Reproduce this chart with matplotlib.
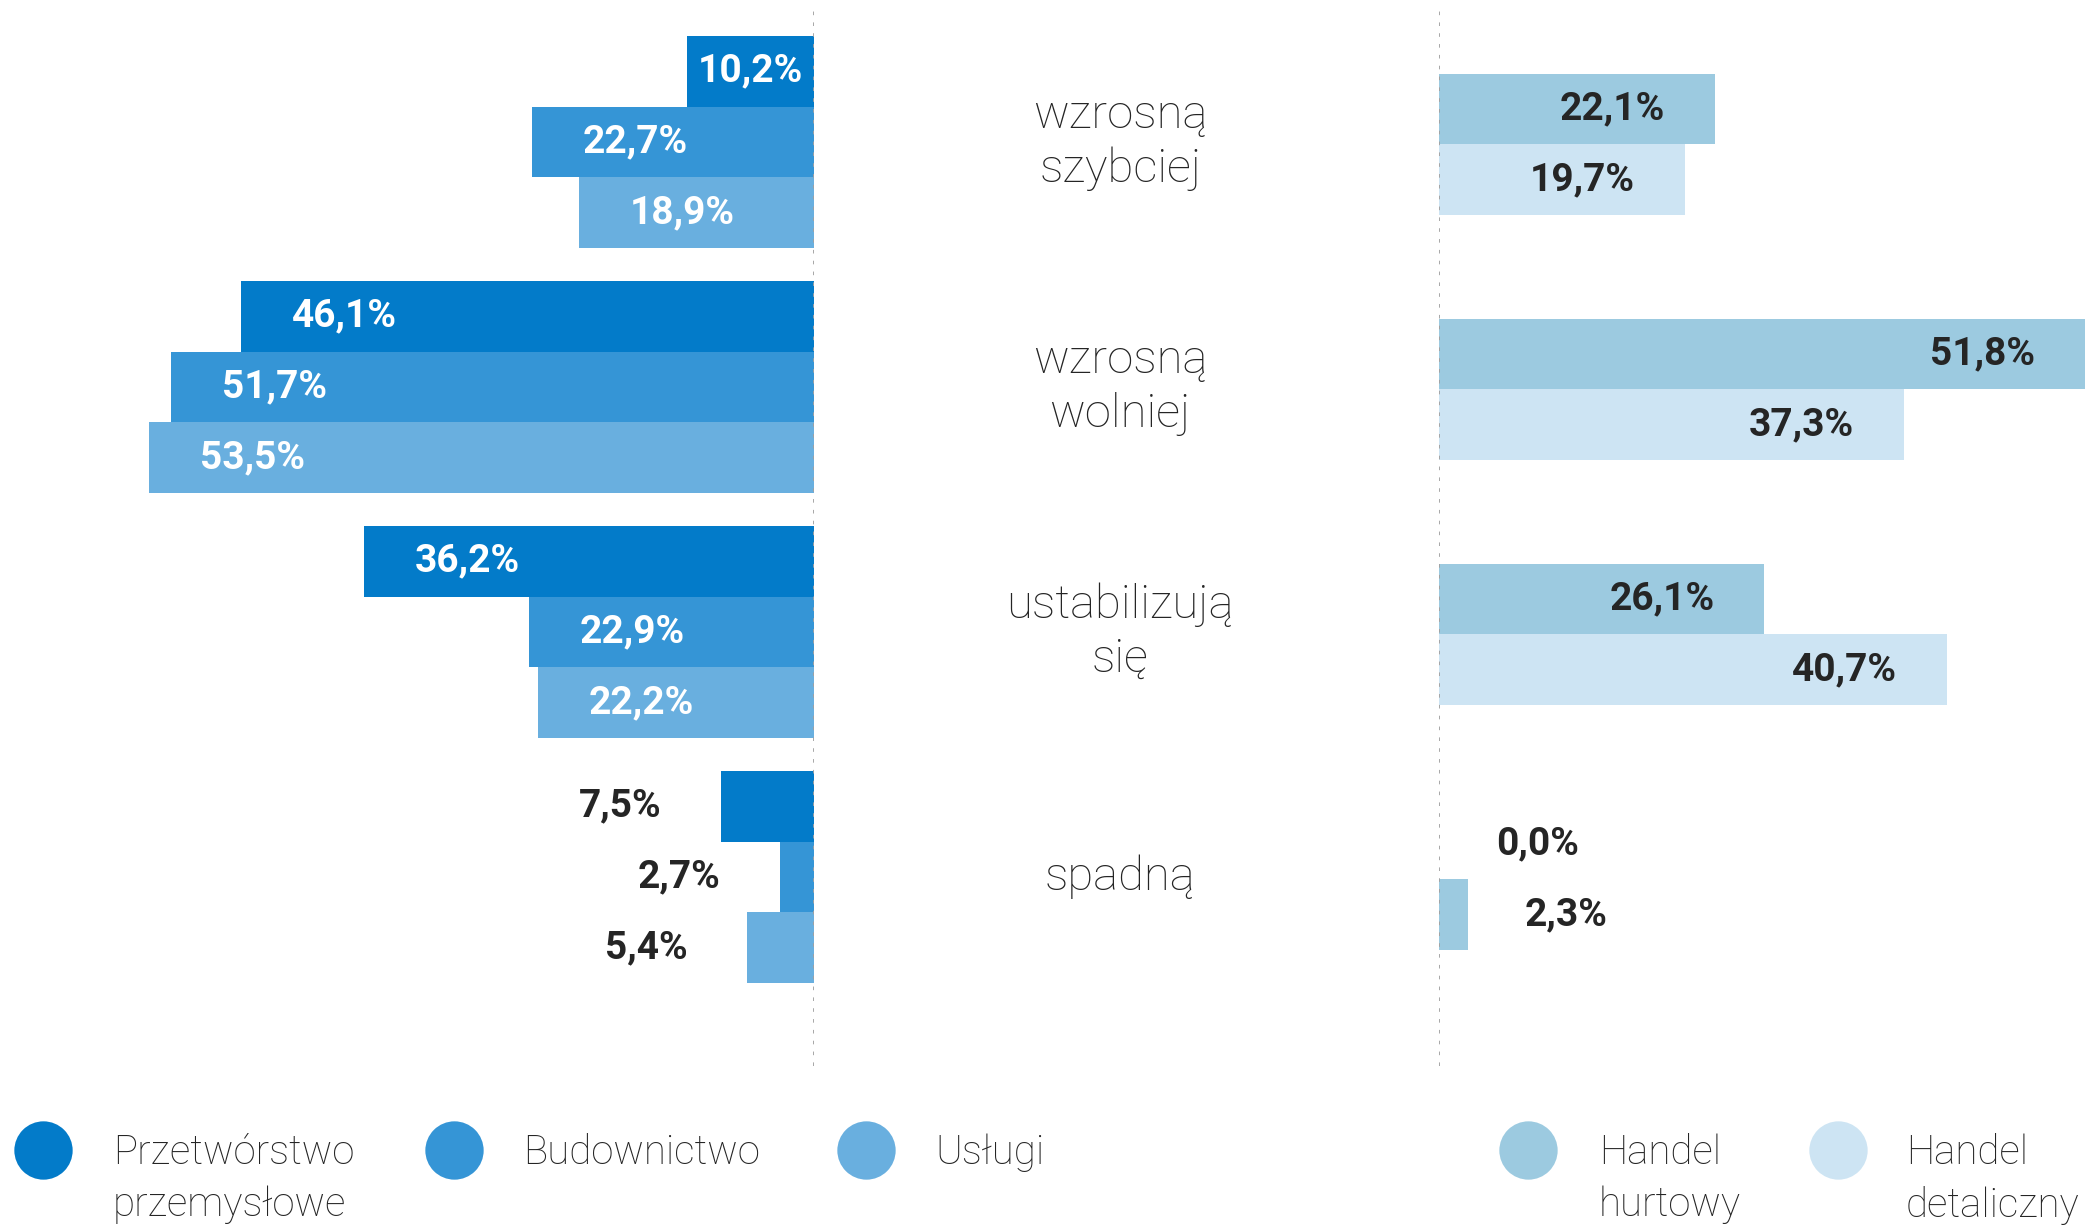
import numpy as np
import matplotlib.pyplot as plt

# dane
kategorie = ["wzrosną\nszybciej", "wzrosną\nwolniej", "ustabilizują\nsię", "spadną"]
przetworstwo = [10.2, 46.1, 36.2, 7.5]
budownictwo = [22.7, 51.7, 22.9, 2.7]
uslugi = [18.9, 53.5, 22.2, 5.4]
hurt = [22.1, 51.8, 26.1, 0.0]
detal = [19.7, 37.3, 40.7, 2.3]

nazwy_lewe = ["Przetwórstwo\nprzemysłowe", "Budownictwo", "Usługi"]
nazwy_prawe = ["Handel\nhurtowy", "Handel\ndetaliczny"]
kolory_lewe = ["#037bc9", "#3595d6", "#69afdf"]
kolory_prawe = ["#9ccae0", "#cde4f3"]
CIEMNY = "#252525"

W, H = 2089, 1226
fig = plt.figure(figsize=(W / 100, H / 100), dpi=100)

FONT_L = dict(family="Roboto", weight="light")
FONT_B = dict(family="Roboto", weight="bold")

bh = 0.288
y = np.arange(len(kategorie))
ylim = (1066 / 245 - 0.579, -0.579)
bottom = 1 - 1066 / H
height = 1066 / H

# lewy panel
axL = fig.add_axes([0, bottom, 814 / W, height])
axL.set_xlim(65.5, 0)
axL.set_ylim(*ylim)
for i, (vals, kol) in enumerate(zip([przetworstwo, budownictwo, uslugi], kolory_lewe)):
    yy = y + (i - 1) * bh
    axL.barh(yy, vals, height=bh, color=kol, linewidth=0)
    for yv, v in zip(yy, vals):
        txt = f"{v:.1f}%".replace(".", ",")
        if v >= 10:
            axL.text(max(v - 8.3, v / 2), yv, txt, ha="center", va="center",
                     color="white", fontsize=28, **FONT_B)
        else:
            axL.text(v + 4.8, yv, txt, ha="right", va="center",
                     color=CIEMNY, fontsize=28, **FONT_B)
axL.axvline(0, ymin=0, ymax=0.99, color="#a0a0a0", linestyle=(0, (2, 4)), linewidth=1.3)
axL.axis("off")

# prawy panel
axR = fig.add_axes([1439 / W, bottom, (W - 1439) / W, height])
axR.set_xlim(0, (W - 1439) / 12.47)
axR.set_ylim(*ylim)
slupki = []
for i, (vals, kol) in enumerate(zip([hurt, detal], kolory_prawe)):
    yy = y + (i - 0.5) * bh + 0.01
    slupki.append(axR.barh(yy, vals, height=bh, color=kol, linewidth=0))
    for yv, v in zip(yy, vals):
        txt = f"{v:.1f}%".replace(".", ",")
        if v >= 10:
            axR.text(v - 4.0, yv, txt, ha="right", va="center",
                     color=CIEMNY, fontsize=28, **FONT_B)
        else:
            axR.text(v + 4.6, yv, txt, ha="left", va="center",
                     color=CIEMNY, fontsize=28, **FONT_B)
# w oryginale ostatni słupek handlu detalicznego ma kolor hurtu
slupki[1][-1].set_color(kolory_prawe[0])
axR.axvline(0, ymin=0, ymax=0.99, color="#a0a0a0", linestyle=(0, (2, 4)), linewidth=1.3)
axR.axis("off")

# etykiety kategorii
axM = fig.add_axes([814 / W, bottom, (1439 - 814) / W, height])
axM.set_ylim(*ylim)
axM.set_xlim(0, 1)
for yv, k in zip(y, kategorie):
    axM.text(0.49, yv, k, ha="center", va="center", color=CIEMNY,
             fontsize=34, linespacing=1.28, **FONT_L)
axM.axis("off")

# legenda
axLeg = fig.add_axes([0, 0, 1, 160 / H])
axLeg.set_xlim(0, W)
axLeg.set_ylim(160, 0)
axLeg.axis("off")
poz_kolka = [43, 454, 866, 1528, 1838]
poz_tekst = [113, 523, 935, 1599, 1906]
yc = 1150 - (H - 160)
for xc, xt, nazwa, kol in zip(poz_kolka, poz_tekst, nazwy_lewe + nazwy_prawe,
                              kolory_lewe + kolory_prawe):
    axLeg.scatter([xc], [yc], s=42 ** 2, color=kol, linewidths=0, clip_on=False)
    axLeg.text(xt, yc - 16, nazwa, ha="left", va="top", color=CIEMNY,
               fontsize=29, linespacing=1.42, **FONT_L)

fig.savefig("out.png", dpi=100)
